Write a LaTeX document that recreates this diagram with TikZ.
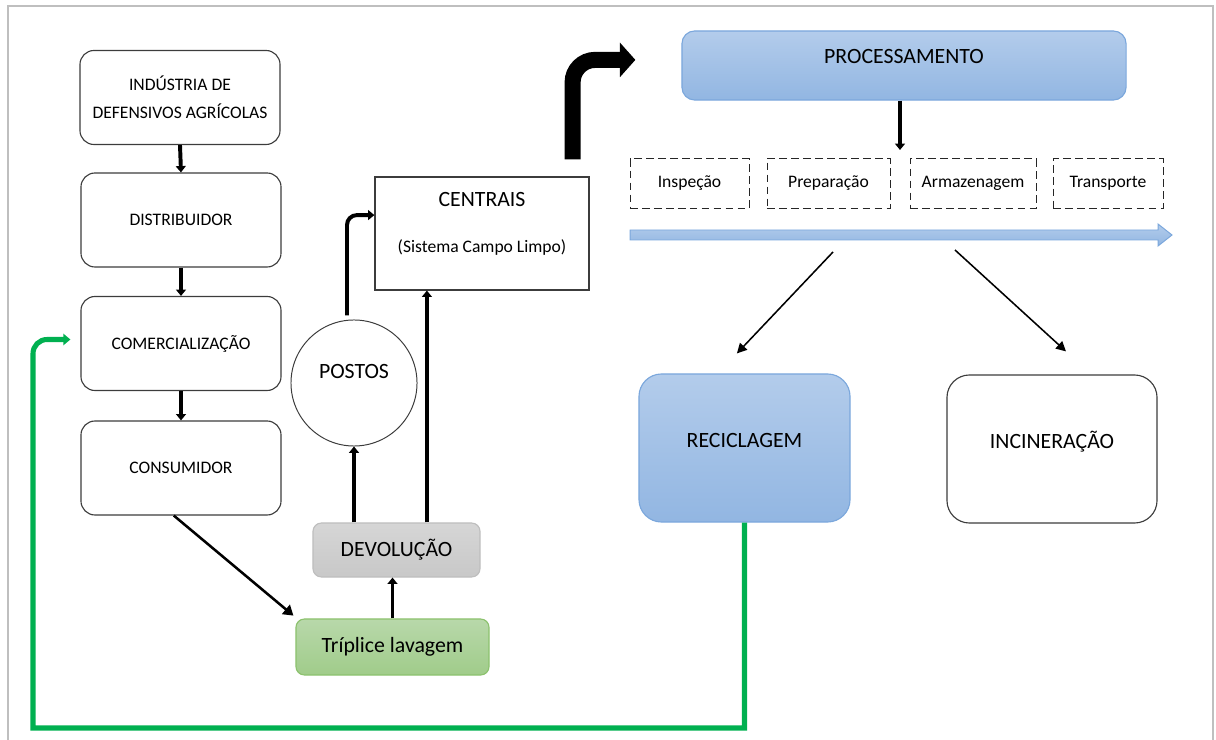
\documentclass[tikz,border=0pt]{standalone}
\usepackage{fontspec}
\setmainfont{Carlito}
\usepackage{xcolor}
\definecolor{cpblue}{RGB}{179,204,235}
\definecolor{cpbluedark}{RGB}{146,182,226}
\definecolor{cpblueline}{RGB}{123,167,220}
\definecolor{cpgray}{RGB}{214,214,214}
\definecolor{cpgraydark}{RGB}{200,200,200}
\definecolor{cpgrayline}{RGB}{190,190,190}
\definecolor{cpgreen}{RGB}{184,216,170}
\definecolor{cpgreendark}{RGB}{160,204,138}
\definecolor{cpgreenline}{RGB}{140,194,110}
\definecolor{cpreturn}{RGB}{0,176,80}
\definecolor{cpframe}{RGB}{191,191,191}
\definecolor{cpedge}{RGB}{60,60,60}
\usetikzlibrary{arrows.meta,positioning,calc}

\begin{document}
\begin{tikzpicture}[x=0.025cm,y=-0.025cm,
  chainbox/.style={draw=cpedge,line width=0.8pt,rounded corners=10pt,minimum width=5cm,
    minimum height=2.35cm,align=center,inner sep=2pt,font=\fontsize{12.5}{20}\selectfont},
  bluebox/.style={draw=cpblueline,line width=0.8pt,top color=cpblue,bottom color=cpbluedark,
    inner sep=0pt,font=\fontsize{15.5}{19}\selectfont},
  plainbox/.style={draw=cpedge,line width=0.8pt,fill=white,inner sep=0pt,
    font=\fontsize{15.5}{19}\selectfont},
  stagebox/.style={draw=black!85,line width=0.7pt,dash pattern=on 5.5pt off 3pt,
    minimum height=1.225cm,inner sep=0pt,font=\fontsize{12.5}{15}\selectfont},
  flowarrow/.style={line width=2.8pt,-{Triangle[width=7pt,length=4.5pt]}},
  thinarrow/.style={line width=1.1pt,-{Triangle[width=7pt,length=7pt]}},
  bigarrow/.style={line width=11.4pt,rounded corners=16pt,-{Triangle[width=24pt,length=11pt]}},
  returnline/.style={draw=cpreturn,line width=3.6pt,-{Triangle[width=8pt,length=5pt]}}
]
  \useasboundingbox (0,0) rectangle (1216,740);
  \draw[cpframe,line width=1pt] (8,740) -- (8,6) -- (1213,6) -- (1213,740);

  % cadeia do produto
  \node[chainbox] (ind) at (180,97.5) {INDÚSTRIA DE\\DEFENSIVOS AGRÍCOLAS};
  \node[chainbox] (dist) at (181,220) {DISTRIBUIDOR};
  \node[chainbox] (com) at (181,343.5) {COMERCIALIZAÇÃO};
  \node[chainbox] (cons) at (181,468) {CONSUMIDOR};
  \draw[flowarrow] (ind.south) -- (dist.north);
  \draw[flowarrow] (dist.south) -- (com.north);
  \draw[flowarrow] (com.south) -- (cons.north);

  % retorno das embalagens
  \node[draw=cpgreenline,line width=0.8pt,top color=cpgreen,bottom color=cpgreendark,rounded corners=6pt,
    minimum width=4.825cm,minimum height=1.4cm,font=\fontsize{15.5}{19}\selectfont] (tripl) at (392.5,647) {Tríplice lavagem};
  \node[draw=cpgrayline,line width=0.8pt,top color=cpgray,bottom color=cpgraydark,rounded corners=6pt,
    minimum width=4.175cm,minimum height=1.35cm,font=\fontsize{15.5}{19}\selectfont] (devol) at (396.5,550) {DEVOLUÇÃO};
  \node[circle,draw=cpedge,line width=0.7pt,minimum size=3.15cm,text depth=0.6cm,
    font=\fontsize{15.5}{19}\selectfont] (postos) at (354,383) {POSTOS};
  \node[plainbox,minimum width=5.35cm,minimum height=2.825cm,align=center,text depth=0.54cm] (centrais) at (482,233.5)
    {CENTRAIS\\[14pt]{\fontsize{12.5}{15}\selectfont(Sistema Campo Limpo)}};

  \draw[line width=1.8pt,-{Triangle[width=8.5pt,length=7pt]}] ([xshift=-0.18cm]cons.south) -- ([xshift=-0.05cm,yshift=0.07cm]tripl.north west);
  \draw[flowarrow] (tripl.north) -- (tripl.north |- devol.south);
  \draw[flowarrow] (postos.south |- devol.north) -- (postos.south);
  \draw[flowarrow] ([xshift=0.76cm]devol.north) -- ([xshift=0.76cm]devol.north |- centrais.south);
  \draw[flowarrow,rounded corners=7pt] ([xshift=-0.175cm,yshift=0.1cm]postos.north) |- ([yshift=0.46cm]centrais.west);

  % processamento
  \node[bluebox,rounded corners=9pt,minimum width=11.1cm,minimum height=1.725cm,text depth=0.43cm] (proc) at (904,65.5) {PROCESSAMENTO};
  \draw[bigarrow] ([xshift=-0.425cm,yshift=0.425cm]centrais.north east) |- ([xshift=-1.15cm,yshift=0.14cm]proc.west);

  \node[stagebox,minimum width=2.975cm] (insp) at (689.5,183.5) {Inspeção};
  \node[stagebox,minimum width=3.075cm] (prep) at (828.5,183.5) {Preparação};
  \node[stagebox,minimum width=3.15cm] (arm) at (973,183.5) {Armazenagem};
  \node[stagebox,minimum width=2.75cm] (transp) at (1108,183.5) {Transporte};
  \coordinate (procend) at (900,150);
  \draw[flowarrow] (proc.south -| procend) -- (procend);

  \draw[draw=cpblueline,line width=0.7pt,top color=cpblue,bottom color=cpbluedark]
    (630,230) -- (1158,230) -- (1158,224) -- (1172,235) -- (1158,246) -- (1158,240) -- (630,240) -- cycle;

  % destino final
  \node[bluebox,rounded corners=16pt,minimum width=5.275cm,minimum height=3.7cm,text depth=0.4cm] (recic) at (744.5,448) {RECICLAGEM};
  \node[plainbox,rounded corners=16pt,minimum width=5.25cm,minimum height=3.7cm,text depth=0.45cm] (incin) at (1052,449) {INCINERAÇÃO};
  \coordinate (recstart) at (833,252);
  \coordinate (incstart) at (955,250);
  \draw[thinarrow] (recstart) -- ([xshift=-0.19cm,yshift=0.5cm]recic.north);
  \draw[thinarrow] (incstart) -- ([xshift=0.35cm,yshift=0.575cm]incin.north);

  \coordinate (greturn) at (33,728);
  \coordinate (gend) at ([xshift=-0.25cm,yshift=0.1cm]com.west);
  \draw[returnline] (recic.south) |- (greturn) [rounded corners=10pt] -- (greturn |- gend) -- (gend);
\end{tikzpicture}
\end{document}
